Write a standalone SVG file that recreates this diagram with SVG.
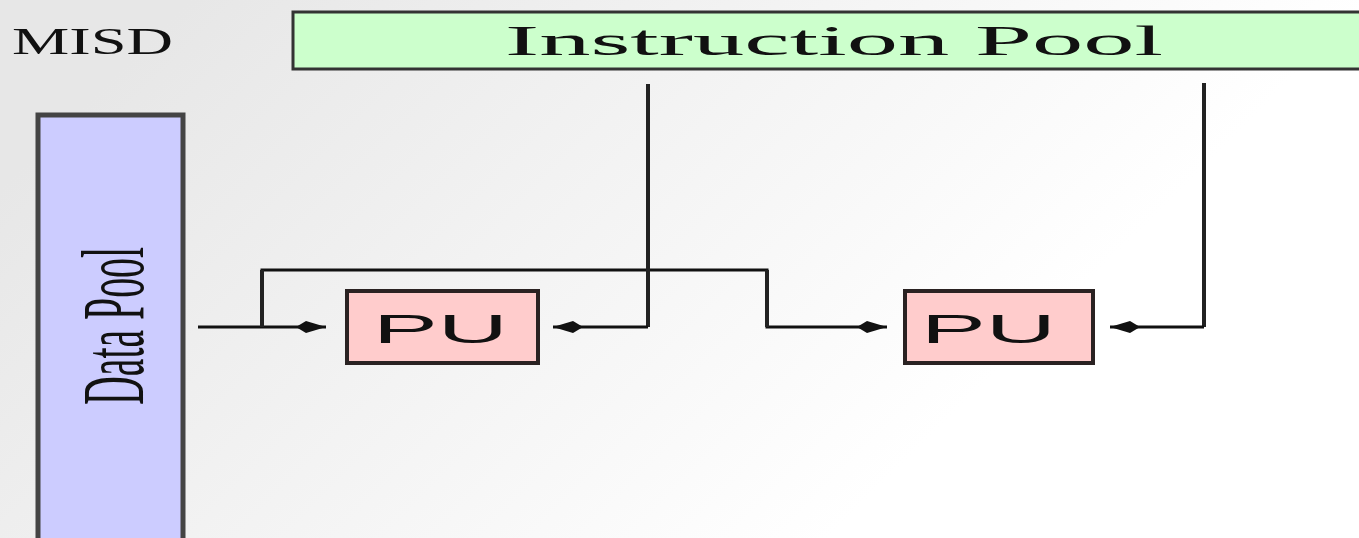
<svg xmlns="http://www.w3.org/2000/svg" width="1359" height="538" viewBox="0 0 1359 538">
<defs>
<linearGradient id="bg" x1="0" y1="0.35" x2="0.75" y2="0.65">
<stop offset="0" stop-color="#e7e7e7"/>
<stop offset="1" stop-color="#ffffff"/>
</linearGradient>
<marker id="arr" markerUnits="userSpaceOnUse" markerWidth="34" markerHeight="18" refX="30" refY="9" orient="auto">
<path d="M0,9 L10,3 L30,9 L10,15 Z" fill="#111"/>
</marker>
<style>
.lbl{font-family:"Liberation Serif","DejaVu Serif",serif;fill:#111}
.pu rect{fill:#ffcccc;stroke:#2a2222;stroke-width:4}
.pu text{font-family:"Liberation Sans","DejaVu Sans",sans-serif;font-size:40px;fill:#111}
.ln{fill:none;stroke:#111;stroke-width:3}
.lnv{fill:none;stroke:#222;stroke-width:4}
</style>
</defs>
<rect width="1359" height="538" fill="url(#bg)"/>
<text class="lbl" x="12" y="54" font-size="38" textLength="161" lengthAdjust="spacingAndGlyphs">MISD</text>
<g id="instruction-pool">
<rect x="293" y="12" width="1080" height="57" fill="#ccffcc" stroke="#333" stroke-width="3"/>
<text class="lbl" x="505" y="55" font-size="42" textLength="658" lengthAdjust="spacingAndGlyphs">Instruction Pool</text>
</g>
<g id="data-pool">
<rect x="38" y="115" width="145" height="440" fill="#ccccff" stroke="#444" stroke-width="5"/>
<text class="lbl" transform="translate(143,405) rotate(-90)" x="0" y="0" font-size="88" textLength="158" lengthAdjust="spacingAndGlyphs">Data Pool</text>
</g>
<g id="pu1" class="pu">
<rect x="347" y="291" width="191" height="72"/>
<text x="373" y="343" textLength="135" lengthAdjust="spacingAndGlyphs">PU</text>
</g>
<g id="pu2" class="pu">
<rect x="905" y="291" width="188" height="72"/>
<text x="921" y="343" textLength="135" lengthAdjust="spacingAndGlyphs">PU</text>
</g>
<g id="connectors">
<path class="ln" d="M198,327 H326" marker-end="url(#arr)"/>
<path class="ln" d="M262,327 V270 H767 V327 H887" marker-end="url(#arr)"/>
<path class="lnv" d="M262,327 V270"/>
<path class="lnv" d="M767,270 V327"/>
<path class="lnv" d="M648,84 V327"/>
<path class="ln" d="M648,327 H553" marker-end="url(#arr)"/>
<path class="lnv" d="M1204,83 V327"/>
<path class="ln" d="M1204,327 H1110" marker-end="url(#arr)"/>
</g>
</svg>
